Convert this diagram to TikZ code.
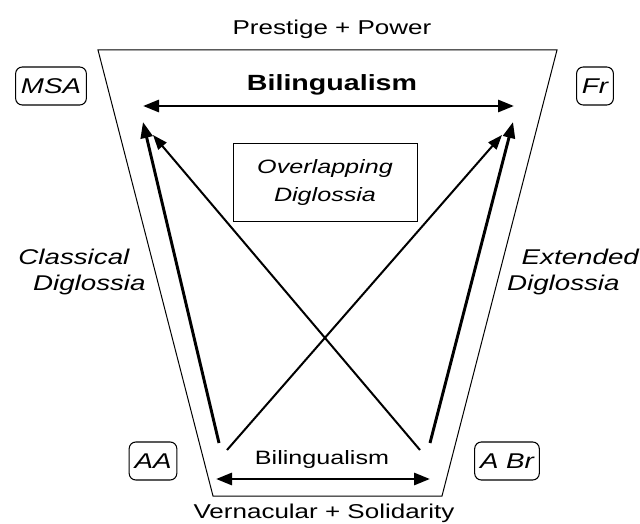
\documentclass[tikz,border=0pt]{standalone}
\usepackage{fontspec}
\setmainfont{Liberation Sans}[FakeStretch=1.3]
\usetikzlibrary{arrows.meta}
\definecolor{Ink}{HTML}{000000}
\begin{document}
\begin{tikzpicture}[x=.75pt,y=-.75pt,
  lang/.style={draw=Ink,rounded corners=5pt,line width=.8pt,minimum height=28.5pt,inner xsep=4pt,font=\fontsize{16}{19}\selectfont\itshape},
  lbl/.style={Ink,align=center,font=\fontsize{15}{18}\selectfont},
  dig/.style={Ink,align=left,inner sep=0pt,font=\fontsize{16}{19.5}\selectfont\itshape},
  bi/.style={Ink,line width=2.2pt,{Triangle[length=12pt,width=9pt]}-{Triangle[length=12pt,width=9pt]}},
  thickarr/.style={Ink,line width=2.2pt,-{Triangle[length=12pt,width=9pt]}},
  thinarr/.style={Ink,line width=1.5pt,-{Triangle[length=11pt,width=8pt]}}]
\useasboundingbox (0,0) rectangle (640,524);
\draw[Ink,line width=.75pt] (98,50)--(557,50)--(442,496)--(213,496)--cycle;
\node[lbl] (prestige) at (332,29) {Prestige + Power};
\node[lbl] (vernac) at (324,513) {Vernacular + Solidarity};
\node[lang] (msa) at (51,86) {MSA};
\node[lang] (fr) at (595,86) {Fr};
\node[lang] (aa) at (153,461) {AA};
\node[lang] (abr) at (507,461) {A Br};
\node[lbl,font=\fontsize{16.5}{19}\selectfont\bfseries] (biTop) at (332,85) {Bilingualism};
\node[lbl,font=\fontsize{14.5}{17}\selectfont] (biBot) at (322,460) {Bilingualism};
\node[draw=Ink,line width=.75pt,minimum width=138pt,minimum height=58.5pt,align=center,font=\fontsize{14.5}{21}\selectfont\itshape] (overlap) at (325,183) {Overlapping\\Diglossia};
\node[dig] (classical) at (82,272) {Classical\\\hspace*{11pt}Diglossia};
\node[dig] (extended) at (573,272) {\hspace*{11pt}Extended\\Diglossia};
\coordinate (hiL) at (143,106); \coordinate (hiR) at (514,106);
\coordinate (loL) at (216,479); \coordinate (loR) at (430,479);
\coordinate (msaIn) at (143,122); \coordinate (msaX) at (153,135);
\coordinate (frIn) at (513,122); \coordinate (frX) at (502,135);
\coordinate (aaIn) at (219,443); \coordinate (aaX) at (227,450);
\coordinate (abrIn) at (430,443); \coordinate (abrX) at (420,450);
\draw[bi] (hiL)--(hiR);
\draw[bi] (loL)--(loR);
\draw[thickarr] (aaIn)--(msaIn);
\draw[thickarr] (abrIn)--(frIn);
\draw[thinarr] (aaX)--(frX);
\draw[thinarr] (abrX)--(msaX);
\end{tikzpicture}
\end{document}
